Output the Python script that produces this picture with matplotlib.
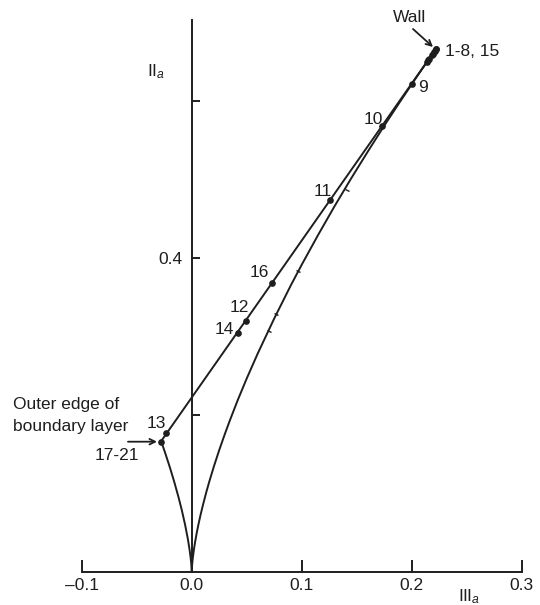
import numpy as np
import matplotlib.pyplot as plt
from matplotlib.markers import MarkerStyle
from matplotlib.transforms import Affine2D

plt.rcParams['font.family'] = ['Liberation Sans', 'DejaVu Sans']
plt.rcParams['mathtext.fontset'] = 'custom'
plt.rcParams['mathtext.rm'] = 'Liberation Sans'
plt.rcParams['mathtext.it'] = 'Liberation Sans:italic'

W, H = 540, 605
FS = 12.5

# boundaries of the invariant map
right_iii = [0.0, 0.0001, 0.0002, 0.0005, 0.001, 0.002, 0.003, 0.0045, 0.006,
             0.008, 0.010, 0.013, 0.016, 0.020, 0.025, 0.030, 0.035, 0.042,
             0.050, 0.060, 0.075, 0.090, 0.100, 0.115, 0.130, 0.145, 0.160,
             0.175, 0.190, 0.205, 0.2222]
right_ii = [0.0, 0.0039, 0.0062, 0.0115, 0.0182, 0.0288, 0.0378, 0.0495, 0.0600,
            0.0727, 0.0843, 0.1005, 0.1154, 0.1339, 0.1554, 0.1754, 0.1944, 0.2196,
            0.2466, 0.2784, 0.3230, 0.3650, 0.3915, 0.4297, 0.4664, 0.5016, 0.5355,
            0.5686, 0.6005, 0.6318, 0.6667]
left_iii = [0.0, -0.0001, -0.0005, -0.001, -0.002, -0.0035, -0.006, -0.009,
            -0.012, -0.016, -0.020, -0.024, -0.0278]
left_ii = [0.0, 0.0039, 0.0115, 0.0182, 0.0288, 0.0419, 0.0600, 0.0787,
           0.0952, 0.1154, 0.1339, 0.1511, 0.1667]
twoc_iii = [-0.0278, 0.2222]
twoc_ii = [0.1667, 0.6667]

# measured points, 1-8 and 15 sit at the wall
pt_iii = [0.222, 0.221, 0.220, 0.219, 0.218, 0.216, 0.215, 0.214, 0.222,
          0.200, 0.173, 0.126, 0.049, -0.023, 0.042, 0.073, -0.028]
pt_ii = [0.666, 0.664, 0.662, 0.660, 0.658, 0.654, 0.652, 0.650, 0.666,
         0.622, 0.568, 0.474, 0.320, 0.177, 0.305, 0.368, 0.166]

# small marks along the right curve
mk_iii = [0.141, 0.097, 0.077, 0.070]
mk_ii = [0.487, 0.383, 0.329, 0.307]

x_ticks = [-0.1, 0.0, 0.1, 0.2, 0.3]
x_labels = ['\u20130.1', '0.0', '0.1', '0.2', '0.3']
y_ticks = [0.2, 0.4, 0.6]
y_labels = ['', '0.4', '']

# point labels: text, pixel x, pixel y, alignment
pt_labels = [('1-8, 15', 445, 51, 'left'), ('9', 418, 88, 'left'),
             ('10', 373, 120, 'center'), ('11', 323, 192, 'center'),
             ('16', 259, 273, 'center'), ('12', 239, 308, 'center'),
             ('14', 224, 329, 'center'), ('13', 156, 423, 'center'),
             ('17-21', 117, 456, 'center')]

fig = plt.figure(figsize=(W / 100, H / 100), dpi=100)
ax = fig.add_axes([0, 0, 1, 1])
ax.set_xlim(-0.1743, 0.3166)
ax.set_ylim(-0.042, 0.7287)
ax.patch.set_visible(False)

lc = '#1e1e1e'
lw = 1.4
ax.plot(right_iii, right_ii, color=lc, lw=lw, solid_joinstyle='round')
ax.plot(left_iii, left_ii, color=lc, lw=lw, solid_joinstyle='round')
ax.plot(twoc_iii, twoc_ii, color=lc, lw=lw)
ax.plot(pt_iii, pt_ii, 'o', color=lc, ms=3.8, ls='none')
ax.plot(mk_iii, mk_ii, ls='none', color=lc, ms=3.5, mew=1.0,
        marker=MarkerStyle('_', transform=Affine2D().rotate_deg(-28)))

for s in ['top', 'right']:
    ax.spines[s].set_visible(False)
ax.spines['left'].set_position(('data', 0))
ax.spines['bottom'].set_position(('data', 0))
ax.spines['left'].set_bounds(0, 0.703)
ax.spines['bottom'].set_bounds(-0.1, 0.3)
for s in ['left', 'bottom']:
    ax.spines[s].set_linewidth(1.4)
    ax.spines[s].set_color(lc)

ax.set_xticks(x_ticks, labels=x_labels)
ax.set_yticks(y_ticks, labels=y_labels)
ax.tick_params(axis='x', direction='in', length=8.5, width=1.4, pad=4,
               labelsize=FS, colors=lc)
ax.tick_params(axis='y', direction='in', length=6, width=1.4, pad=7,
               labelsize=FS, colors=lc)


def px(x, y):
    return x / W, 1 - y / H


for txt, x, y, ha in pt_labels:
    fig.text(*px(x, y), txt, ha=ha, va='center', fontsize=FS, color=lc)

fig.text(*px(13, 405), 'Outer edge of', ha='left', va='center', fontsize=FS, color=lc)
fig.text(*px(13, 427), 'boundary layer', ha='left', va='center', fontsize=FS, color=lc)
fig.text(*px(410, 18), 'Wall', ha='center', va='center', fontsize=FS, color=lc)
fig.text(*px(156, 72), r'$\mathrm{II}_a$', ha='center', va='center', fontsize=FS, color=lc)
fig.text(*px(469, 597), r'$\mathrm{III}_a$', ha='center', va='center', fontsize=FS, color=lc)

arrow = dict(arrowstyle='->', color=lc, lw=1.3, shrinkA=0, shrinkB=0)
ax.annotate('', xy=(433, H - 47), xytext=(413, H - 29),
            xycoords='figure pixels', textcoords='figure pixels', arrowprops=arrow)
ax.annotate('', xy=(157, H - 441.7), xytext=(128, H - 441.7),
            xycoords='figure pixels', textcoords='figure pixels', arrowprops=arrow)

fig.savefig('out.png', dpi=100)
